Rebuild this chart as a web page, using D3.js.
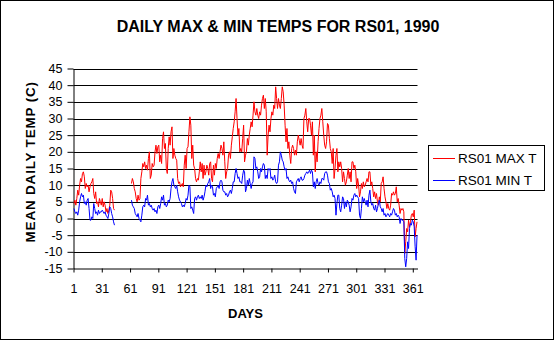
<!DOCTYPE html>
<html><head><meta charset="utf-8">
<script src="https://cdn.jsdelivr.net/npm/d3@7"></script>
<style>body{margin:0;background:#fff}svg{display:block}text{font-family:"Liberation Sans",Arial,sans-serif}</style>
</head><body><svg id="c" width="555" height="341"></svg>
<script>
const title = "DAILY MAX & MIN TEMPS FOR RS01, 1990";
const xTitle = "DAYS";
const yTitle = "MEAN DAILY TEMP (C)";
const seriesNames = ["RS01 MAX T", "RS01 MIN T"];
const xTickLabels = [1, 31, 61, 91, 121, 151, 181, 211, 241, 271, 301, 331, 361];
const yTicks = [-15, -10, -5, 0, 5, 10, 15, 20, 25, 30, 35, 40, 45];
const N = null;
const maxT = [
4.5,5.5,4,6,8.5,7,10,12,11,13.5,
14,12.5,9,10.5,9.5,10,8,9.5,10.5,11,
12,7.5,6,8,4.5,5,3.5,6,5,4,
6,3.5,5,4,2,3,1.5,2.5,4,8.5,
8,6,3,2.5,N,N,N,N,N,N,
N,N,N,N,N,N,N,N,N,N,
N,10.5,12,11,9,8,6,5,7,5.5,
6,12,14,16.5,15.5,17,15,16,14.5,18,
20,12,13,16.5,15.5,16,20,22,19.5,21.5,
22,17,19,16.5,24,26,21,22.5,15,13.5,
21,24.5,22,26,27.5,18,21,19,18,17.5,
12,10.5,11,9.5,10,10.5,9.5,16,19,15,
21,21.5,26,30.5,28,18,22,16,15,12,
11,12,11.5,14,17,14,16.5,12,16,13,
14,16,15,13,16.5,17,12,11,16,13,
16.5,15,18,19.5,18,20,22,21,19,23,
17,12,14,15,19,20,18,22,24.5,27,
29,32,36,30,25,27,20,21,20,24,
28,17,19,20,24,22,25,27,29,27.5,
31,35,32,31,33,31,30,32,31,34,
36,37,33,36,32,19,25,28,26,30,
32,31,34,33,39.5,36,33,36,34,33,
36,39.5,38,34,28,23,27,21,23,19,
16.5,21,22,21,19,20.5,19,23,25,23.5,
22,24,22,21,30,31,33,29,26,30,
30,28,25,29,19,25,14,20,17,23,
27,30,31,33,29,25,22,21,23,28.5,
28,24,21,20,16.5,21,12,15,19,21,
14,17,15.5,17,15,11,14,12,10,11,
13,15,12,14,11,17,17,15,16,14,
9,12,10,6.5,8,10.5,9,11,9.5,10,
11,12,11,14,14,10,11,9,6.5,8,
6,7.5,5,4,6.5,5,10.5,11,12.5,9,
6.5,5,3,4.5,3,2.5,4,7.5,7,8,
7,7.5,9.5,5,6,4,1.5,3,2.5,3,
2,-10.5,-7,-3,-4,-0.5,-2.5,-1,1,1.5,
0.5,2.5,-5.5,-3,-1
];
const minT = [
3,2,1.5,2,1,2.5,5,6.5,7.5,6.5,
7,4.5,5,4,5.5,6,3,-0.5,-0.5,0.5,
0,4.5,3,1.5,2,1,2.5,1.5,2,2,
2.5,2,1.5,2,1,0.5,0,1.5,3.5,3,
1.5,0.5,-1,-2,N,N,N,N,N,N,
N,N,N,N,N,N,N,N,N,N,
N,5.5,4,3.5,3,1.5,1,0.5,1.5,0,
-0.5,-1,1,3.5,4,3.5,6,5.5,7,4,
4.5,3.5,4,3,2.5,3,2,2.5,1.5,3.5,
4,3,4.5,6.5,5.5,7,4,4.5,3.5,4,
5.5,5,6,9,11,12,10,9.5,9,10,
8,6.5,5.5,5,4.5,3.5,4,3.5,4.5,6,
5.5,7,10,9.5,3,3.5,2.5,1.5,6,6.5,
5.5,6.5,7,6,6.5,6,7,5.5,6.5,8,
10,9.5,10.5,11,12,9,10,9.5,7,7.5,
6.5,9,9.5,10,9,11,11.5,11,8.5,8,
8,7,7.5,6.5,7,8,8.5,7.5,9,11,
11,13.5,15,13.5,12,12.5,11,11,10.5,13,
14.5,14,8,9,11.5,10,12,10.5,9,10.5,
11,18.5,18,15,15.5,14,12,12.5,15,14,
15.5,16.5,16,12,13,12,15,14.5,15,12,
12.5,11.5,12,13,11,10.5,11,16,17,20,
19,17.5,17,15.5,14.5,15,12,12.5,11.5,11,
11.5,10.5,11,9,8,7.5,11,11.5,12,11,
12,12.5,11.5,11.5,12,13,13.5,14,13.5,14,
14.5,13.5,14.5,14,9.5,11,9,11,12,10.5,
10,11,10.5,12,12,11.5,13.5,14,14,13,
11,10.5,8.5,9,8,6.5,7,6,1,4.5,
7,7,3,2,4,6.5,6,3,5,3.5,
5.5,5,4,2,3.5,6,5.5,7,7.5,6.5,
7,6.5,6,1,0,3,6.5,5,6,5,
4,5.5,3.5,7,8.5,5,4,4.5,3,2.5,
4,2,3,4.5,5.5,3.5,3,2,3,1,
1.5,0.5,1,1.5,1,0.5,1.5,1,2,3,
2.5,1,1.5,0.5,1,0.5,-1.5,0,-0.5,-0.5,
-1,-12,-14.5,-12,-7,-9,-3,-1.5,-2,-0.5,
-1,-2.5,-8.5,-12.5,-5
];
const days = d3.range(1, maxT.length + 1);
const colors = ["#ff0000", "#0000ff"];

const svg = d3.select("#c");
svg.append("rect").attr("x", 0.5).attr("y", 0.5).attr("width", 553).attr("height", 339)
  .attr("fill", "#fff").attr("stroke", "#000");

const x = d3.scaleLinear().domain([0.5, 365.5]).range([73.5, 417.5]);
const y = d3.scaleLinear().domain([-15, 45]).range([268.5, 68.5]);

// gridlines
svg.append("g").selectAll("line").data(yTicks.filter(v => v > -15)).join("line")
  .attr("x1", x(0.5)).attr("x2", x(365.5))
  .attr("y1", d => Math.round(y(d)) + 0.5).attr("y2", d => Math.round(y(d)) + 0.5)
  .attr("stroke", "#000").attr("stroke-width", 1);

// axes
const yAxis = svg.append("g").attr("transform", `translate(${x(0.5)},0)`)
  .call(d3.axisLeft(y).tickValues(yTicks).tickSize(6).tickSizeOuter(0).tickPadding(5).tickFormat(d => d));
yAxis.selectAll("text").attr("font-size", 12.5).attr("fill", "#000");
yAxis.selectAll("line,path").attr("stroke", "#000");

const xAxis = svg.append("g").attr("transform", `translate(0,${y(-15)})`)
  .call(d3.axisBottom(x).tickValues(xTickLabels.map(v => v - 0.5)).tickSize(4).tickSizeOuter(0).tickPadding(12)
    .tickFormat((d, i) => xTickLabels[i]));
xAxis.selectAll("text").attr("font-size", 12.5).attr("fill", "#000");
xAxis.selectAll("line,path").attr("stroke", "#000");

// series
const line = d3.line().defined(d => d[1] !== null).x(d => x(d[0])).y(d => y(d[1]));
[maxT, minT].forEach((s, i) => {
  svg.append("path").datum(days.map((d, j) => [d, s[j]]))
    .attr("d", line).attr("fill", "none").attr("stroke", colors[i]).attr("stroke-width", 1);
});

// titles
svg.append("text").attr("x", 278).attr("y", 32).attr("text-anchor", "middle")
  .attr("font-size", 16).attr("font-weight", "bold").text(title);
svg.append("text").attr("x", x(183)).attr("y", 318).attr("text-anchor", "middle")
  .attr("font-size", 13).attr("font-weight", "bold").text(xTitle);
svg.append("text").attr("transform", `translate(35,${y(17)}) rotate(-90)`).attr("text-anchor", "middle")
  .attr("font-size", 13.5).attr("font-weight", "bold").attr("letter-spacing", 0.8).text(yTitle);

// legend
const lg = svg.append("g");
lg.append("rect").attr("x", 428.5).attr("y", 145.5).attr("width", 116).attr("height", 45)
  .attr("fill", "#fff").attr("stroke", "#000");
seriesNames.forEach((n, i) => {
  const yy = 158.5 + i * 22;
  lg.append("line").attr("x1", 433).attr("x2", 455).attr("y1", yy).attr("y2", yy)
    .attr("stroke", colors[i]).attr("stroke-width", 1);
  lg.append("text").attr("x", 458).attr("y", yy).attr("dy", "0.36em")
    .attr("font-size", 13.5).text(n);
});
</script></body></html>
